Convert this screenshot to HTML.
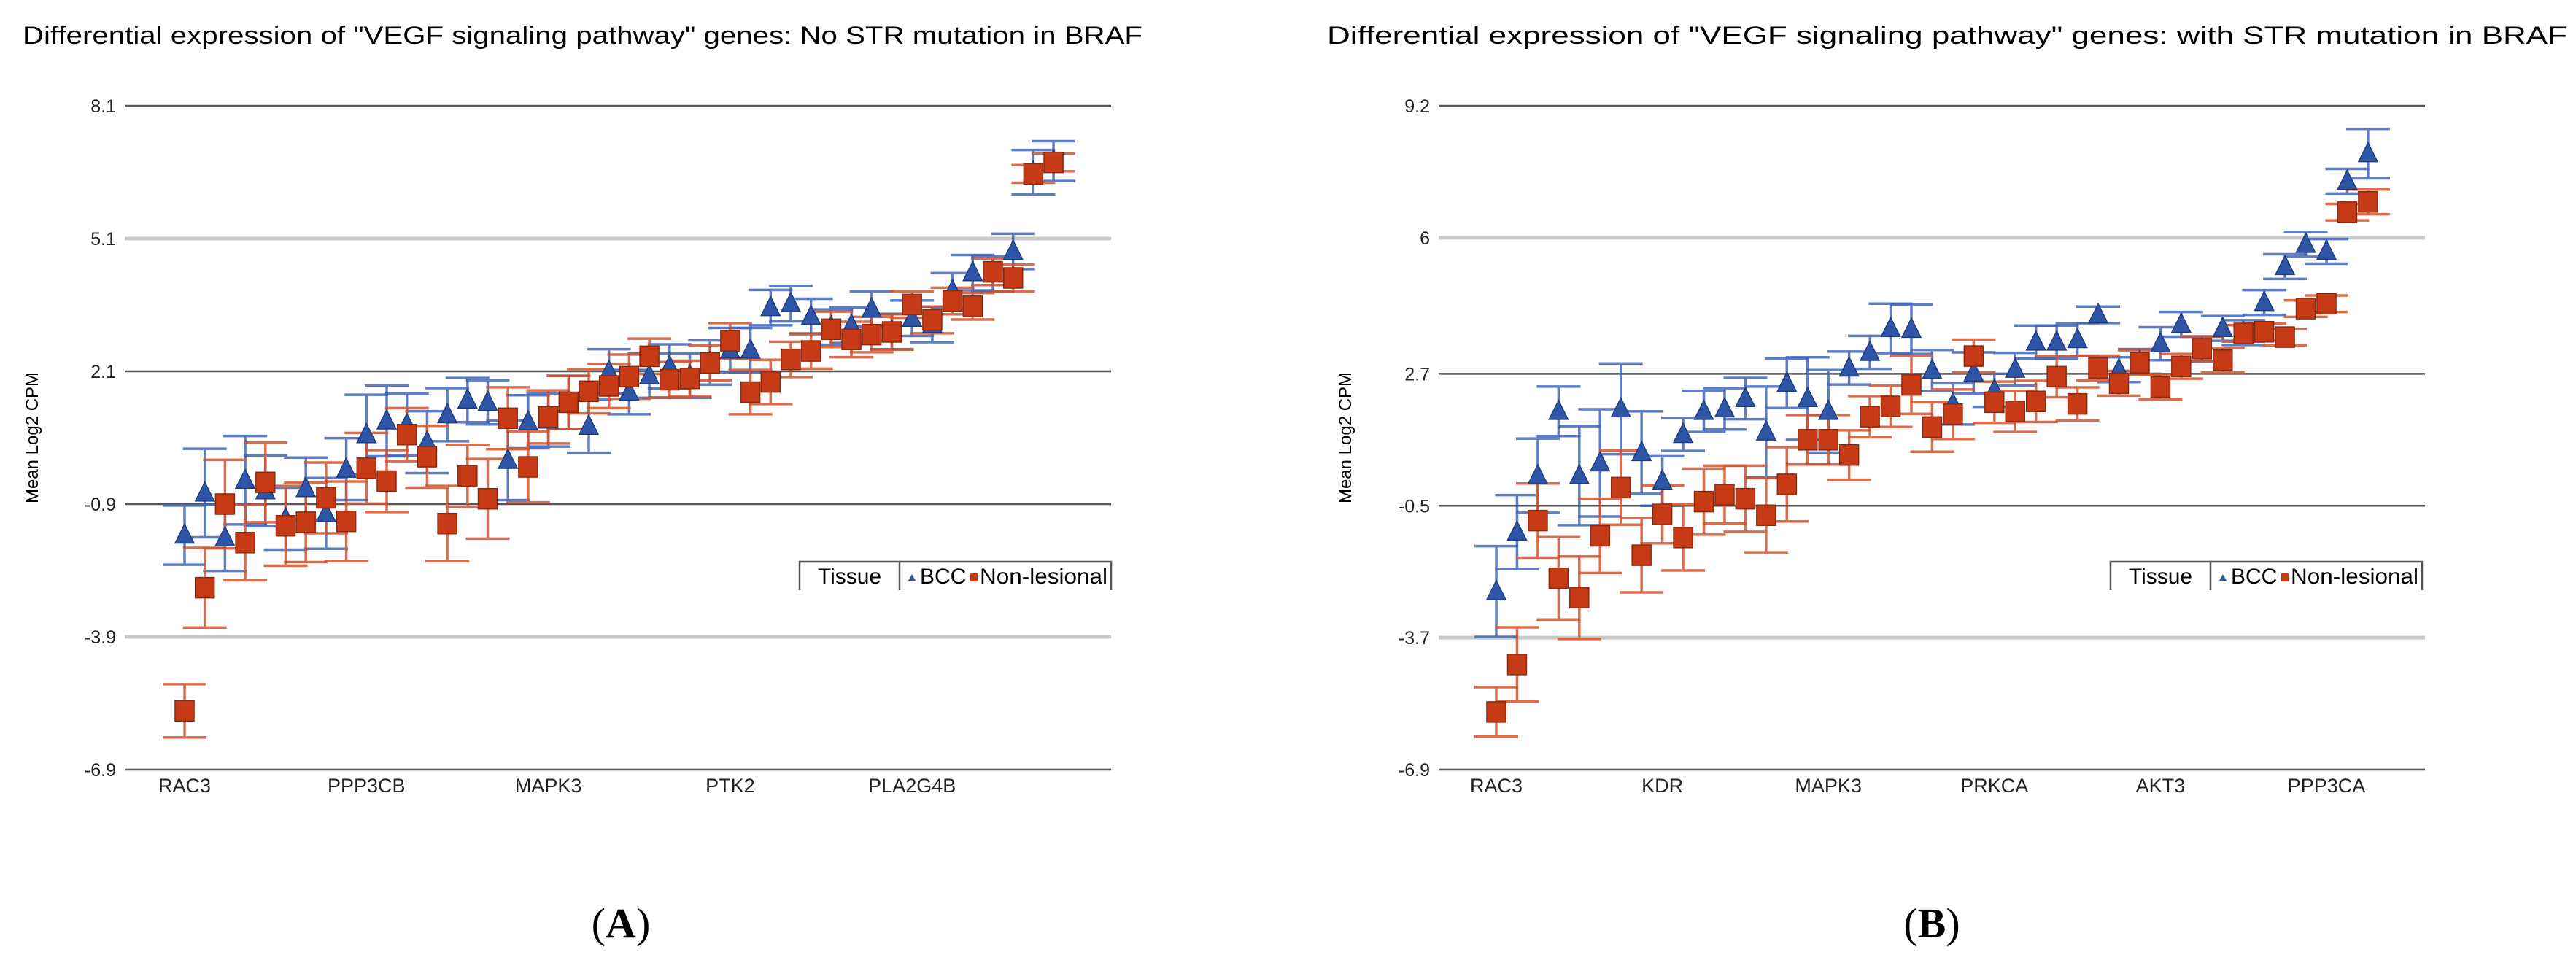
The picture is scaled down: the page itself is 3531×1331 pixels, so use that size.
<!DOCTYPE html>
<html><head><meta charset="utf-8"><style>
body{margin:0;background:#fff;}
svg{display:block;font-family:"Liberation Sans",Arial,sans-serif;}
</style></head><body>
<svg id="s" width="3531" height="1331" viewBox="0 0 3531 1331">
<text x="31" y="60" font-size="34" textLength="1535" lengthAdjust="spacingAndGlyphs">Differential expression of "VEGF signaling pathway" genes: No STR mutation in BRAF</text>
<text x="1819" y="60" font-size="34" textLength="1700" lengthAdjust="spacingAndGlyphs">Differential expression of "VEGF signaling pathway" genes: with STR mutation in BRAF</text>
<text x="851" y="1285" font-size="58" font-family="Liberation Serif,serif" text-anchor="middle">(<tspan font-weight="bold">A</tspan>)</text>
<text x="2648" y="1285" font-size="58" font-family="Liberation Serif,serif" text-anchor="middle">(<tspan font-weight="bold">B</tspan>)</text>
<g id="ga"></g>
<g id="gb"></g>
</svg>
<script>
const ticksA=[8.1,5.1,2.1,-0.9,-3.9,-6.9];
const catsA=["RAC3","PPP3CB","MAPK3","PTK2","PLA2G4B"];
const bccA=[-1.6,-0.65,-1.66,-0.36,-0.6,-1.23,-0.55,-1.11,-0.11,0.67,0.98,0.9,0.5,1.12,1.45,1.4,0.09,0.96,1.0,1.4,0.86,2.1,1.63,2.0,2.21,2.0,2.3,2.58,2.58,3.54,3.63,3.34,3.1,3.14,3.51,3.0,3.3,3.16,3.92,4.33,4.3,4.81,6.6,6.85];
const nlA=[-5.57,-2.79,-0.9,-1.77,-0.41,-1.39,-1.31,-0.76,-1.29,-0.09,-0.38,0.67,0.17,-1.34,-0.26,-0.78,1.04,-0.06,1.07,1.4,1.65,1.77,1.98,2.44,1.91,1.94,2.29,2.79,1.63,1.86,2.37,2.56,3.05,2.82,2.93,2.99,3.61,3.26,3.69,3.57,4.35,4.21,6.56,6.82];
const bccErrA=[0.67,1.0,0.75,1.0,0.8,0.7,0.7,0.8,0.7,0.9,0.8,0.7,0.7,0.6,0.5,0.5,0.9,0.6,0.6,0.6,0.6,0.5,0.5,0.5,0.5,0.5,0.5,0.5,0.5,0.4,0.4,0.4,0.4,0.4,0.4,0.4,0.4,0.4,0.4,0.4,0.4,0.4,0.5,0.45];
const nlErrA=[0.6,0.9,1.0,0.85,0.9,0.9,0.9,0.8,0.9,0.8,0.7,0.6,0.7,0.85,0.7,0.9,0.7,0.8,0.6,0.6,0.5,0.5,0.5,0.4,0.4,0.4,0.4,0.4,0.5,0.5,0.4,0.4,0.4,0.4,0.4,0.4,0.3,0.3,0.3,0.3,0.3,0.3,0.2,0.2];
const ticksB=[9.2,6,2.7,-0.5,-3.7,-6.9];
const catsB=["RAC3","KDR","MAPK3","PRKCA","AKT3","PPP3CA"];
const bccB=[-2.58,-1.14,0.23,1.79,0.23,0.54,1.85,0.79,0.1,1.23,1.79,1.85,2.1,1.29,2.47,2.1,1.79,2.84,3.22,3.8,3.78,2.78,1.97,2.72,2.3,2.81,3.47,3.47,3.53,4.13,2.8,3.0,3.43,3.9,3.3,3.8,3.7,4.43,5.3,5.84,5.67,7.37,8.04];
const nlB=[-5.5,-4.35,-0.86,-2.26,-2.73,-1.23,-0.06,-1.7,-0.71,-1.27,-0.4,-0.23,-0.33,-0.73,0.02,1.1,1.1,0.73,1.66,1.91,2.43,1.41,1.72,3.13,2.01,1.79,2.03,2.63,1.97,2.84,2.47,2.97,2.38,2.88,3.31,3.03,3.68,3.72,3.59,4.28,4.4,6.62,6.87];
const bccErrB=[1.1,0.9,0.9,0.6,1.2,1.3,1.1,1.0,0.6,0.4,0.5,0.5,0.5,1.1,0.6,1.0,1.0,0.4,0.4,0.6,0.6,0.5,0.5,0.5,0.4,0.4,0.4,0.4,0.4,0.2,0.3,0.3,0.4,0.3,0.3,0.3,0.3,0.3,0.3,0.3,0.3,0.3,0.6];
const nlErrB=[0.6,0.9,0.9,1.0,1.0,0.9,0.9,0.9,0.7,0.8,0.8,0.7,0.8,0.9,0.9,0.6,0.6,0.6,0.5,0.5,0.7,0.6,0.6,0.4,0.5,0.5,0.5,0.5,0.4,0.3,0.3,0.3,0.3,0.3,0.3,0.3,0.2,0.2,0.2,0.2,0.2,0.2,0.3];
const NS="http://www.w3.org/2000/svg";
function mk(p,t,a){const e=document.createElementNS(NS,t);for(const k in a)e.setAttribute(k,a[k]);p.appendChild(e);return e;}
function chart(g,o){
 const y=v=>145+(o.ticks[0]-v)/(o.ticks[0]-o.ticks[o.ticks.length-1])*910;
 const x=i=>o.x0+i*o.dx;
 o.ticks.forEach((t,k)=>{
  const ln=mk(g,"line",{x1:o.l,x2:o.r,y1:y(t),y2:y(t),stroke:(k==1||k==4)?"#c8c8c8":"#555",'stroke-width':(k==1||k==4)?5:2.5});
  
  
  const tx=mk(g,"text",{x:o.l-12,y:y(t)+9,'font-size':25,'text-anchor':'end',fill:'#222'});tx.textContent=t;
  
  
 });
 o.cats.forEach((c,k)=>{
  const tx=mk(g,"text",{x:x(k*o.step),y:1086,'font-size':27,'text-anchor':'middle',fill:'#222'});tx.textContent=c;
  
  
 });
 const yt=mk(g,"text",{x:0,y:0,'font-size':24,'text-anchor':'middle',transform:`translate(${o.yl},600) rotate(-90)`});yt.textContent="Mean Log2 CPM";
 
 
 function err(v,e,i,c){
  const cx=x(i),a=y(v+e),b=y(v-e);
  const eg=mk(g,"g",{stroke:c,'stroke-width':3.5,opacity:0.85});
  
  
  mk(eg,"line",{x1:cx,x2:cx,y1:a,y2:b});
  mk(eg,"line",{x1:cx-30,x2:cx+30,y1:a,y2:a});
  mk(eg,"line",{x1:cx-30,x2:cx+30,y1:b,y2:b});
 }
 o.bcc.forEach((v,i)=>err(v,o.be[i],i,"#4267b8"));
 o.nl.forEach((v,i)=>err(v,o.ne[i],i,"#d2552e"));
 o.bcc.forEach((v,i)=>{const cx=x(i),cy=y(v);
  const p=mk(g,"polygon",{points:`${cx},${cy-15} ${cx-13},${cy+11} ${cx+13},${cy+11}`,fill:"#2f56a6",stroke:"#1d3d80",'stroke-width':1.5});
  
  });
 o.nl.forEach((v,i)=>{const cx=x(i),cy=y(v);
  const r=mk(g,"rect",{x:cx-13,y:cy-14,width:26,height:28,fill:"#c63a16",stroke:"#8a2a10",'stroke-width':1.5});
  
  });
 const L=o.lg;
 const lg=mk(g,"g",{});
 
 
 mk(lg,"rect",{x:L[0],y:770,width:L[2]-L[0],height:38,fill:"#fff"});
 mk(lg,"path",{d:`M${L[0]},809 V770 H${L[2]} V809 M${L[1]},770 V809`,stroke:"#555",'stroke-width':2.5,fill:"none"});
 const t1=mk(lg,"text",{x:(L[0]+L[1])/2,y:800,'font-size':30,'text-anchor':'middle'});t1.textContent="Tissue";
 mk(lg,"polygon",{points:`${L[1]+17},${787} ${L[1]+12},${796} ${L[1]+22},${796}`,fill:"#2f56a6"});
 const t2=mk(lg,"text",{x:L[1]+28,y:800,'font-size':30});t2.textContent="BCC";
 mk(lg,"rect",{x:L[1]+97,y:786,width:10,height:11,fill:"#c63a16"});
 const t3=mk(lg,"text",{x:L[1]+110,y:800,'font-size':30,textLength:L[2]-L[1]-115,lengthAdjust:"spacingAndGlyphs"});t3.textContent="Non-lesional";
}
chart(document.getElementById('ga'),{ticks:ticksA,cats:catsA,bcc:bccA,nl:nlA,be:bccErrA,ne:nlErrA,l:171,r:1523,x0:253,dx:27.7,step:9,yl:52,lg:[1096,1233,1523]});
chart(document.getElementById('gb'),{ticks:ticksB,cats:catsB,bcc:bccB,nl:nlB,be:bccErrB,ne:nlErrB,l:1972,r:3324,x0:2051,dx:28.45,step:8,yl:1852,lg:[2893,3030,3320]});
</script>
</body></html>
